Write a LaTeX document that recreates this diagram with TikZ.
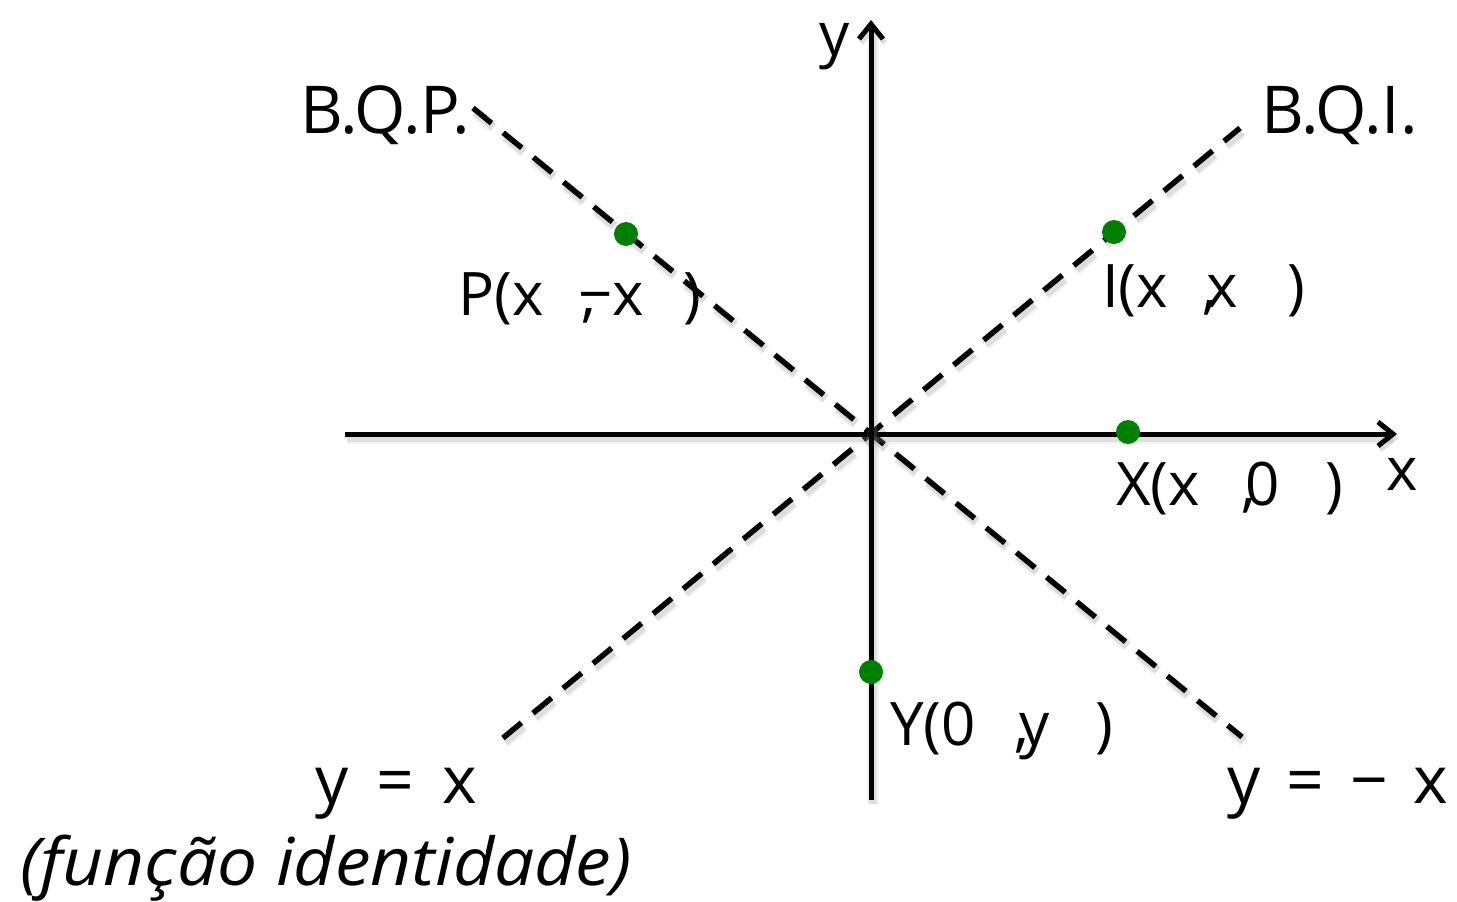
\documentclass[tikz,border=0pt]{standalone}
\usepackage{fontspec}
\setmainfont{Open Sans}
\usetikzlibrary{arrows.meta}
\definecolor{dotgreen}{RGB}{0,128,0}
\begin{document}
\begin{tikzpicture}[x=1pt,y=-1pt,
  shadowed/.style={
    preaction={draw=black!45, opacity=.10, line width=12pt, transform canvas={shift={(2pt,-4pt)}}},
    preaction={draw=black!45, opacity=.20, line width=8pt, transform canvas={shift={(2pt,-4pt)}}}},
  dshadowed/.style={
    preaction={draw=black!45, opacity=.10, line width=12pt, dash pattern=on 24pt off 15pt, transform canvas={shift={(2pt,-4pt)}}},
    preaction={draw=black!45, opacity=.22, line width=8pt, dash pattern=on 24pt off 15pt, transform canvas={shift={(2pt,-4pt)}}}},
  axisline/.style={line width=5pt, -{Straight Barb[length=15pt,width=24pt,line width=5pt]}, shadowed},
  diag/.style={line width=5.5pt, dash pattern=on 24pt off 15pt, dshadowed},
  gdot/.style={circle, fill=dotgreen, inner sep=0pt, minimum size=24pt},
  big/.style={anchor=base west, inner sep=0pt, font=\fontsize{66}{70}\selectfont},
  lbl/.style={anchor=base west, inner sep=0pt, font=\fontsize{60}{64}\selectfont}]
\useasboundingbox (0,0) rectangle (1457,902);
% axes and diagonals
\coordinate (xl) at (345,434);
\coordinate (xr) at (1397,434);
\coordinate (yb) at (871,800);
\coordinate (yt) at (871,20);
\coordinate (d1a) at (503,738);
\coordinate (d1b) at (1240,128);
\coordinate (d2a) at (473,108);
\coordinate (d2b) at (1242,737);
\draw[diag] (d1a) -- (d1b);
\draw[diag] (d2a) -- (d2b);
\draw[axisline] (xl) -- (xr);
\draw[axisline] (yb) -- (yt);
% points
\node[gdot] (P) at (626,234) {};
\node[gdot] (I) at (1114,232) {};
\node[gdot] (X) at (1128,432) {};
\node[gdot] (Y) at (871,672) {};
% labels
\node[lbl] (ylab) at (819,55) {y};
\node[lbl] (xlab) at (1386,490) {x};
\node[big] (bqp) at (300,133) {B.Q.P.};
\node[big] (bqi) at (1261,133) {B.Q.I.};
\node[lbl] (Plab) at (458,315) {P(x\hspace{38pt},\hspace{-18pt}−x\hspace{40pt})};
\node[lbl] (Ilab) at (1102,307) {I(x\hspace{34pt},\hspace{-10pt}x\hspace{49pt})};
\node[lbl] (Xlab) at (1116,505) {X(x\hspace{41pt},\hspace{-10pt}0\hspace{45pt})};
\node[lbl] (Ylab) at (890,745) {Y(0\hspace{39pt},\hspace{-10pt}y\hspace{46pt})};
\node[big] (eq1) at (315,803) {y\hspace{28pt}=\hspace{28pt}x};
\node[big] (eq2) at (1227,803) {y\hspace{26pt}=\hspace{26pt}−\hspace{26pt}x};
\node[big, font=\fontsize{66}{70}\selectfont\itshape\addfontfeature{FakeStretch=1.08}] (fi) at (20,885) {(função identidade)};
\end{tikzpicture}
\end{document}
